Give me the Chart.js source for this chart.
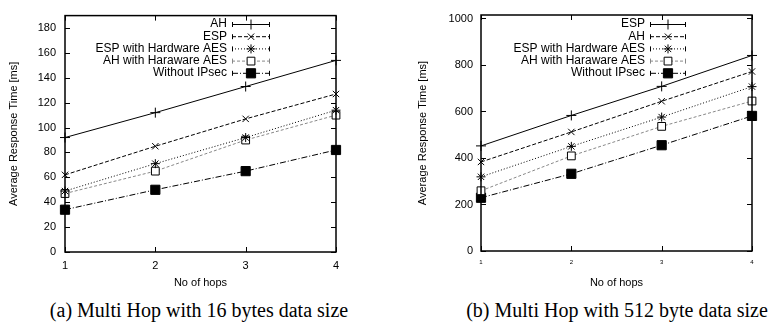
<!DOCTYPE html>
<html>
<head>
<meta charset="utf-8">
<script src="https://cdn.jsdelivr.net/npm/chart.js@4"></script>
<style>
  body { margin: 0; background: #fff; width: 779px; height: 322px; position: relative; overflow: hidden; }
  .box { position: absolute; top: 0; height: 292px; }
  .cap { position: absolute; top: 299px; line-height: 23px; font-family: "Liberation Serif", "DejaVu Serif", serif; font-size: 20px; color: #000; white-space: nowrap; transform: translateX(-50%); }
</style>
</head>
<body>
<div class="box" style="left:0;width:350px"><canvas id="chartA"></canvas></div>
<div class="box" style="left:390px;width:389px"><canvas id="chartB"></canvas></div>
<div class="cap" style="left:199px">(a) Multi Hop with 16 bytes data size</div>
<div class="cap" style="left:617px">(b) Multi Hop with 512 byte data size</div>

<script>
// number of hops on the x axis
const hops = [1, 2, 3, 4];

// (a) 16 bytes
const labelsA = ['AH', 'ESP', 'ESP with Hardware AES', 'AH with Haraware AES', 'Without IPsec'];
const ahA    = [92, 112, 133, 154];
const espA   = [62, 85, 107, 127];
const espHwA = [49, 71, 92, 114];
const ahHwA  = [47, 65, 90, 110];
const noneA  = [34, 50, 65, 82];
const yTicksA = [0, 20, 40, 60, 80, 100, 120, 140, 160, 180];
const yMaxA = 190;

// (b) 512 bytes
const labelsB = ['ESP', 'AH', 'ESP with Hardware AES', 'AH with Haraware AES', 'Without IPsec'];
const espB   = [452, 583, 708, 841];
const ahB    = [383, 512, 644, 772];
const espHwB = [319, 450, 576, 707];
const ahHwB  = [259, 409, 536, 645];
const noneB  = [229, 332, 455, 581];
const yTicksB = [0, 200, 400, 600, 800, 1000];
const yMaxB = 1015;

// gnuplot-ish line/point styles, by series order
const styles = [
    { dash: [],           color: '#000', point: 'cross',    radius: 5,   fill: '#000' },
    { dash: [4, 2],       color: '#000', point: 'crossRot', radius: 4.5, fill: '#000' },
    { dash: [1, 2],       color: '#000', point: 'star',     radius: 4.5, fill: '#000' },
    { dash: [3, 2],       color: '#888', point: 'rect',     radius: 5.5, fill: '#fff' },
    { dash: [6, 2, 1, 2], color: '#000', point: 'rect',     radius: 6.5, fill: '#000' }
];

const sans = '"Liberation Sans", Arial, sans-serif';

function drawMarker(ctx, st, x, y) {
    const r = st.radius;
    ctx.save();
    ctx.setLineDash([]);
    ctx.lineWidth = 1;
    ctx.strokeStyle = '#000';
    ctx.beginPath();
    if (st.point === 'rect') {
        const s = r * Math.SQRT1_2;
        ctx.fillStyle = st.fill;
        ctx.rect(x - s, y - s, 2 * s, 2 * s);
        ctx.fill();
        ctx.stroke();
    } else {
        const d = r * Math.SQRT1_2;
        if (st.point === 'cross' || st.point === 'star') {
            ctx.moveTo(x - r, y); ctx.lineTo(x + r, y);
            ctx.moveTo(x, y - r); ctx.lineTo(x, y + r);
        }
        if (st.point === 'crossRot' || st.point === 'star') {
            ctx.moveTo(x - d, y - d); ctx.lineTo(x + d, y + d);
            ctx.moveTo(x - d, y + d); ctx.lineTo(x + d, y - d);
        }
        ctx.stroke();
    }
    ctx.restore();
}

// frame, inward ticks (mirrored) and the gnuplot style key
const gnuplotLook = {
    id: 'gnuplotLook',
    afterDraw(chart, args, opts) {
        const ctx = chart.ctx;
        const a = chart.chartArea;
        const xs = chart.scales.x, ys = chart.scales.y;
        ctx.save();
        ctx.strokeStyle = '#000';
        ctx.lineWidth = 1;
        ctx.beginPath();
        ys.ticks.forEach(t => {
            const y = Math.round(ys.getPixelForValue(t.value)) + 0.5;
            ctx.moveTo(a.left, y); ctx.lineTo(a.left + 5, y);
            ctx.moveTo(a.right, y); ctx.lineTo(a.right - 5, y);
        });
        xs.ticks.forEach(t => {
            const x = Math.round(xs.getPixelForValue(t.value)) + 0.5;
            ctx.moveTo(x, a.bottom); ctx.lineTo(x, a.bottom - 5);
            ctx.moveTo(x, a.top); ctx.lineTo(x, a.top + 5);
        });
        ctx.stroke();
        ctx.lineWidth = 1.5;
        ctx.strokeRect(a.left, a.top, a.right - a.left, a.bottom - a.top);

        // key
        ctx.font = '12px ' + sans;
        ctx.textAlign = 'right';
        ctx.textBaseline = 'middle';
        ctx.fillStyle = '#000';
        chart.data.datasets.forEach((ds, i) => {
            const st = styles[i];
            const y = opts.top + i * 12.2;
            ctx.fillText(ds.label, opts.textRight, y);
            ctx.save();
            ctx.lineWidth = 1;
            ctx.strokeStyle = st.color;
            ctx.setLineDash(st.dash);
            ctx.beginPath();
            ctx.moveTo(opts.x1, y + 0.5); ctx.lineTo(opts.x2, y + 0.5);
            ctx.stroke();
            ctx.setLineDash([]);
            ctx.beginPath();
            ctx.moveTo(opts.x1 + 0.5, y - 2); ctx.lineTo(opts.x1 + 0.5, y + 3);
            ctx.moveTo(opts.x2 - 0.5, y - 2); ctx.lineTo(opts.x2 - 0.5, y + 3);
            ctx.stroke();
            ctx.restore();
            drawMarker(ctx, st, (opts.x1 + opts.x2) / 2, y + 0.5);
        });
        ctx.restore();
    }
};

function makeChart(id, labels, series, yTicks, yMax, o) {
    const datasets = series.map((vals, i) => ({
        label: labels[i],
        data: vals.map((v, k) => ({ x: hops[k], y: v })),
        borderColor: styles[i].color,
        borderWidth: 1,
        borderDash: styles[i].dash,
        pointStyle: styles[i].point,
        pointRadius: styles[i].radius,
        pointBorderColor: '#000',
        pointBackgroundColor: styles[i].fill,
        pointBorderWidth: 1,
        tension: 0,
        clip: false
    }));
    return new Chart(document.getElementById(id), {
        type: 'line',
        data: { datasets: datasets },
        options: {
            responsive: true,
            maintainAspectRatio: false,
            animation: false,
            layout: { padding: { left: 0, right: o.padRight, top: o.padTop, bottom: 0 } },
            plugins: {
                legend: { display: false },
                tooltip: { enabled: false },
                gnuplotLook: o.key
            },
            scales: {
                x: {
                    type: 'linear',
                    min: 1, max: 4,
                    grid: { display: false, drawTicks: false },
                    border: { display: false },
                    afterBuildTicks: s => { s.ticks = hops.map(v => ({ value: v })); },
                    afterFit: s => { s.height = o.xHeight; },
                    ticks: { color: '#000', padding: o.xPad, font: { family: sans, size: o.xFont }, maxRotation: 0 },
                    title: { display: true, text: 'No of hops', color: '#000', font: { family: sans, size: 11 }, padding: { top: 0, bottom: 2 } }
                },
                y: {
                    min: yTicks[0], max: yMax,
                    grid: { display: false, drawTicks: false },
                    border: { display: false },
                    afterBuildTicks: s => { s.ticks = yTicks.map(v => ({ value: v })); },
                    afterFit: s => { s.width = o.yWidth; },
                    ticks: { color: '#000', padding: o.yPad, font: { family: sans, size: 11 }, callback: v => String(v) },
                    title: { display: true, text: 'Average Response Time [ms]', color: '#000', font: { family: sans, size: 11 }, padding: { top: o.yTitlePad, bottom: 0 } }
                }
            }
        },
        plugins: [gnuplotLook]
    });
}

makeChart('chartA', labelsA, [ahA, espA, espHwA, ahHwA, noneA], yTicksA, yMaxA, {
    padRight: 14, padTop: 14, xHeight: 40, yWidth: 65, xPad: 7, yPad: 9, xFont: 11, yTitlePad: 7,
    key: { textRight: 227, x1: 232, x2: 270, top: 24 }
});

makeChart('chartB', labelsB, [espB, ahB, espHwB, ahHwB, noneB], yTicksB, yMaxB, {
    padRight: 27, padTop: 15, xHeight: 41, yWidth: 91, xPad: 8, yPad: 8, xFont: 6, yTitlePad: 26,
    key: { textRight: 255, x1: 260, x2: 296, top: 24 }
});
</script>
</body>
</html>
